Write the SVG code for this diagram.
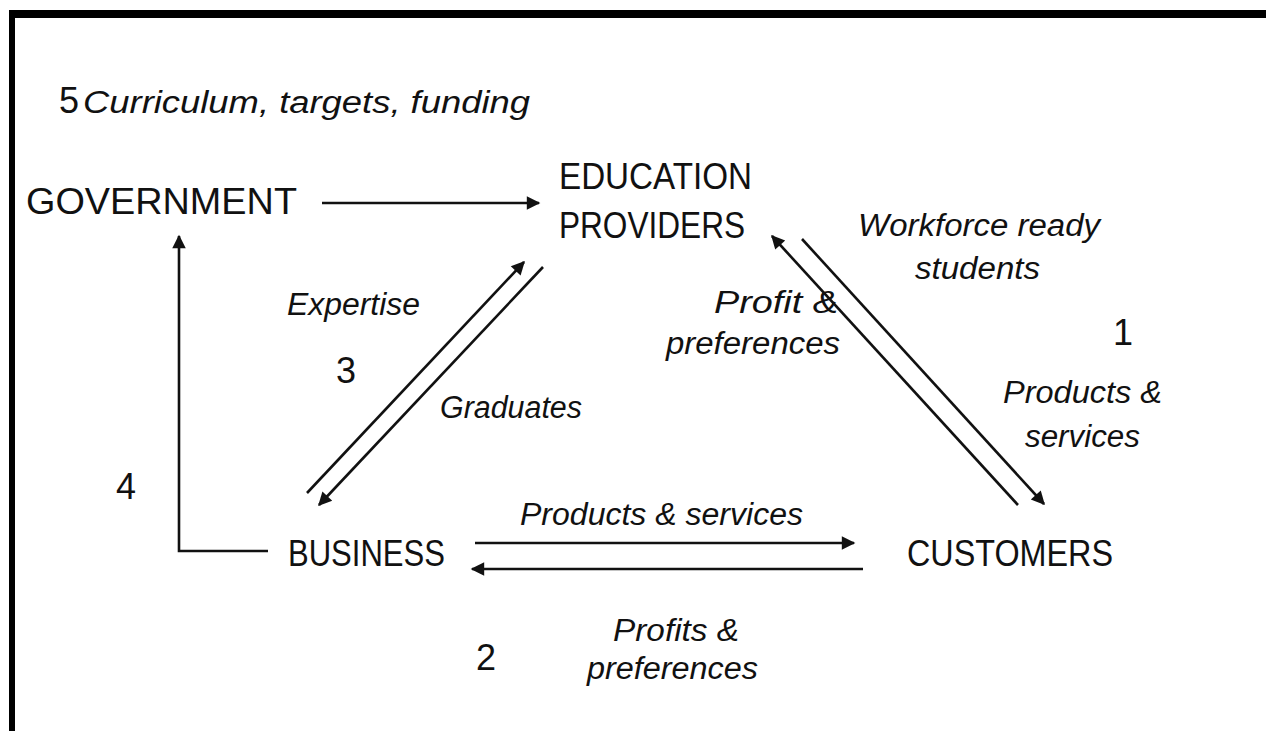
<svg xmlns="http://www.w3.org/2000/svg" width="1266" height="731" viewBox="0 0 1266 731">
  <style>
    .node { font-family: "Liberation Sans", Arial, sans-serif; font-size: 37px; fill: #111; }
    .num { font-family: "Liberation Sans", Arial, sans-serif; font-size: 36px; fill: #111; }
    .lbl { font-family: "Liberation Sans", Arial, sans-serif; font-size: 31px; font-style: italic; fill: #111; }
    .conn { stroke: #111; stroke-width: 2.6; fill: none; }
  </style>
  <defs>
    <marker id="ah" viewBox="0 0 10 10" refX="9" refY="5" markerWidth="6.5" markerHeight="5.2" markerUnits="strokeWidth" orient="auto">
      <path d="M0,0 L10,5 L0,10 z" fill="#111"/>
    </marker>
  </defs>
  <rect width="1266" height="731" fill="#fff"/>
  <g id="frame">
    <rect x="9" y="10" width="1257" height="8" fill="#000"/>
    <rect x="9" y="10" width="6" height="721" fill="#000"/>
  </g>

  <g id="connectors">
    <line class="conn" x1="322" y1="203" x2="539" y2="203" marker-end="url(#ah)"/>
    <polyline class="conn" points="268,551 179,551 179,236" marker-end="url(#ah)"/>
    <line class="conn" x1="307" y1="493" x2="524" y2="262" marker-end="url(#ah)"/>
    <line class="conn" x1="543" y1="267" x2="319" y2="505" marker-end="url(#ah)"/>
    <line class="conn" x1="475" y1="543" x2="854" y2="543" marker-end="url(#ah)"/>
    <line class="conn" x1="863" y1="569" x2="472" y2="569" marker-end="url(#ah)"/>
    <line class="conn" x1="1018" y1="505" x2="772" y2="236" marker-end="url(#ah)"/>
    <line class="conn" x1="802" y1="239" x2="1044" y2="504" marker-end="url(#ah)"/>
  </g>

  <g id="government"><text class="node" x="26" y="214" textLength="271" lengthAdjust="spacingAndGlyphs">GOVERNMENT</text></g>
  <g id="education">
    <text class="node" x="559" y="189" textLength="193" lengthAdjust="spacingAndGlyphs">EDUCATION</text>
    <text class="node" x="559" y="238" textLength="186" lengthAdjust="spacingAndGlyphs">PROVIDERS</text>
  </g>
  <g id="business"><text class="node" x="288" y="566" textLength="157" lengthAdjust="spacingAndGlyphs">BUSINESS</text></g>
  <g id="customers"><text class="node" x="907" y="566" textLength="206" lengthAdjust="spacingAndGlyphs">CUSTOMERS</text></g>

  <g id="labels">
    <text class="num" x="59" y="113">5</text>
    <text class="lbl" x="83" y="113" textLength="447" lengthAdjust="spacingAndGlyphs">Curriculum, targets, funding</text>
    <text class="num" x="1113" y="345">1</text>
    <text class="num" x="476" y="670">2</text>
    <text class="num" x="336" y="383">3</text>
    <text class="num" x="116" y="499">4</text>
    <text class="lbl" x="287" y="315" textLength="133" lengthAdjust="spacingAndGlyphs">Expertise</text>
    <text class="lbl" x="440" y="418" textLength="142" lengthAdjust="spacingAndGlyphs">Graduates</text>
    <text class="lbl" x="714" y="313" textLength="124" lengthAdjust="spacingAndGlyphs">Profit &amp;</text>
    <text class="lbl" x="666" y="354" textLength="174" lengthAdjust="spacingAndGlyphs">preferences</text>
    <text class="lbl" x="858" y="236" textLength="242" lengthAdjust="spacingAndGlyphs">Workforce ready</text>
    <text class="lbl" x="915" y="279" textLength="125" lengthAdjust="spacingAndGlyphs">students</text>
    <text class="lbl" x="1003" y="403" textLength="159" lengthAdjust="spacingAndGlyphs">Products &amp;</text>
    <text class="lbl" x="1025" y="447" textLength="115" lengthAdjust="spacingAndGlyphs">services</text>
    <text class="lbl" x="520" y="525" textLength="283" lengthAdjust="spacingAndGlyphs">Products &amp; services</text>
    <text class="lbl" x="613" y="641" textLength="126" lengthAdjust="spacingAndGlyphs">Profits &amp;</text>
    <text class="lbl" x="587" y="679" textLength="171" lengthAdjust="spacingAndGlyphs">preferences</text>
  </g>
</svg>
